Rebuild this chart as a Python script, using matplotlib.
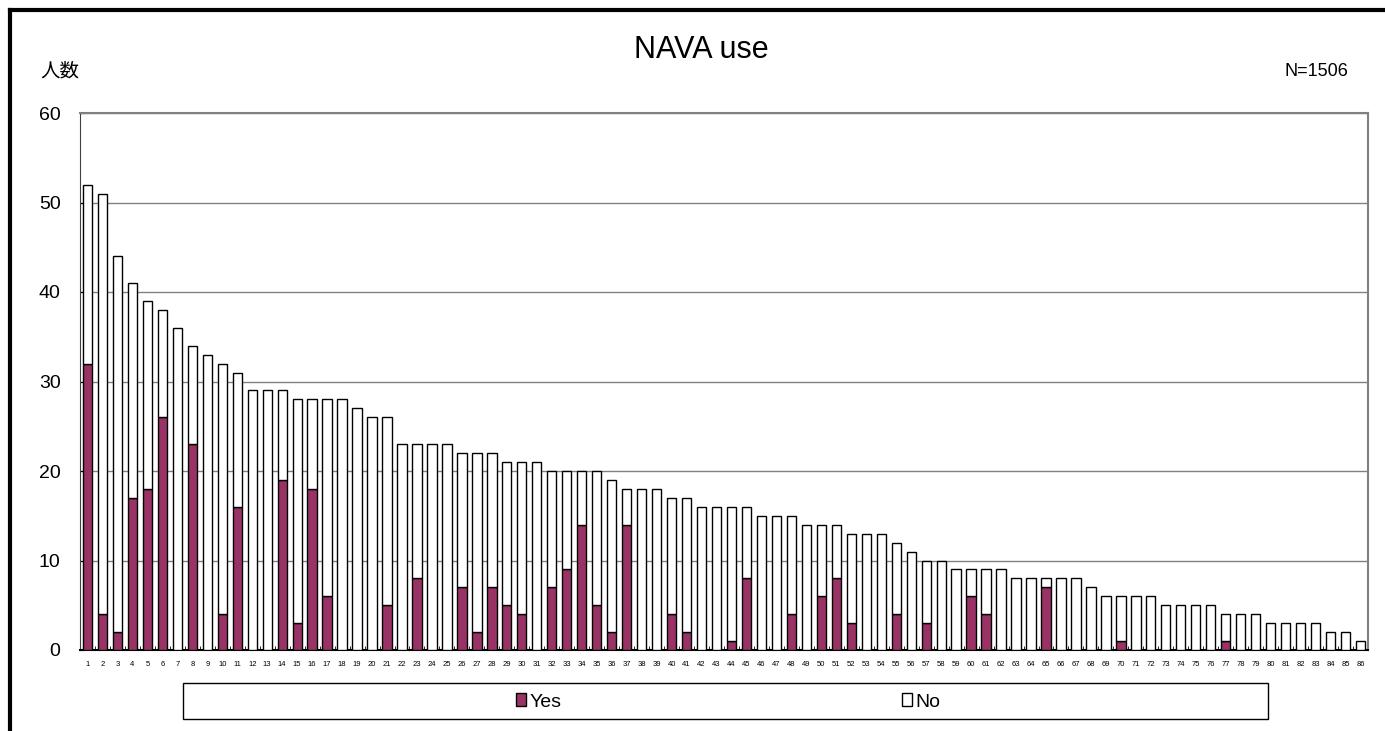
import matplotlib
matplotlib.use('Agg')
import matplotlib.pyplot as plt
from matplotlib.patches import Rectangle
from matplotlib.lines import Line2D
import numpy as np

plt.rcParams['font.family'] = ['Liberation Sans', 'Noto Sans CJK JP', 'DejaVu Sans']

# Data
categories = [str(i) for i in range(1, 87)]
totals = [52, 51, 44, 41, 39, 38, 36, 34, 33, 32, 31, 29, 29, 29, 28, 28, 28, 28, 27, 26,
          26, 23, 23, 23, 23, 22, 22, 22, 21, 21, 21, 20, 20, 20, 20, 19, 18, 18, 18, 17,
          17, 16, 16, 16, 16, 15, 15, 15, 14, 14, 14, 13, 13, 13, 12, 11, 10, 10, 9, 9,
          9, 9, 8, 8, 8, 8, 8, 7, 6, 6, 6, 6, 5, 5, 5, 5, 4, 4, 4, 3,
          3, 3, 3, 2, 2, 1]
yes = [32, 4, 2, 17, 18, 26, 0, 23, 0, 4, 16, 0, 0, 19, 3, 18, 6, 0, 0, 0,
       5, 0, 8, 0, 0, 7, 2, 7, 5, 4, 0, 7, 9, 14, 5, 2, 14, 0, 0, 4,
       2, 0, 0, 1, 8, 0, 0, 4, 0, 6, 8, 3, 0, 0, 4, 0, 3, 0, 0, 6,
       4, 0, 0, 0, 7, 0, 0, 0, 0, 1, 0, 0, 0, 0, 0, 0, 1, 0, 0, 0,
       0, 0, 0, 0, 0, 0]
no = [t - y for t, y in zip(totals, yes)]

maroon = '#993366'

fig = plt.figure(figsize=(13.85, 7.31), dpi=100)
ax = fig.add_axes([80 / 1385, 1 - 650 / 731, 1288 / 1385, 537 / 731])

x = np.arange(1, len(categories) + 1)
ax.bar(x, yes, width=0.62, color=maroon, edgecolor='black', linewidth=1, label='Yes', zorder=3)
ax.bar(x, no, bottom=yes, width=0.62, color='white', edgecolor='black', linewidth=1,
       label='No', zorder=3)

ax.set_xlim(0.5, len(categories) + 0.5)
ax.set_ylim(0, 60)
ax.set_yticks(range(0, 61, 10))
ax.set_xticks(x)
ax.set_xticklabels(categories, fontsize=5.5)
# small tick marks between the categories
ax.set_xticks(np.arange(1.5, len(categories), 1), minor=True)
ax.tick_params(axis='x', which='major', length=0, pad=8)
ax.tick_params(axis='x', which='minor', direction='in', length=3, color='black')
ax.tick_params(axis='y', direction='in', length=3, labelsize=14, pad=14)

ax.yaxis.grid(True, color='#808080', linewidth=1, zorder=0)
ax.set_axisbelow(True)

for side in ['top', 'right']:
    ax.spines[side].set_color('#808080')
    ax.spines[side].set_linewidth(1.5)
ax.spines['left'].set_color('#404040')
ax.spines['bottom'].set_color('black')
ax.spines['bottom'].set_linewidth(1.5)

fig.text(701 / 1385, 1 - 50 / 731, 'NAVA use', ha='center', va='center', fontsize=22)
fig.text(40 / 1385, 1 - 71 / 731, '人数', ha='left', va='center', fontsize=14,
         family=['Noto Sans CJK JP', 'DejaVu Sans'])
fig.text(1348 / 1385, 1 - 71 / 731, 'N=1506', ha='right', va='center', fontsize=13)

# legend box
fig.patches.append(Rectangle((183 / 1385, 1 - 719 / 731), 1085 / 1385, 36 / 731,
                             transform=fig.transFigure, facecolor='none',
                             edgecolor='black', linewidth=1))
fig.legend(loc='center', bbox_to_anchor=(728 / 1385, 1 - 702 / 731), ncol=2,
           frameon=False, fontsize=14, handlelength=0.55, handleheight=0.65,
           handletextpad=0.15, columnspacing=17.5)

# outer frame (left and top edges)
fig.add_artist(Line2D([10 / 1385, 10 / 1385], [0, 1 - 10 / 731], transform=fig.transFigure,
                      color='black', linewidth=3))
fig.add_artist(Line2D([10 / 1385, 1], [1 - 10 / 731, 1 - 10 / 731], transform=fig.transFigure,
                      color='black', linewidth=3))

fig.savefig('out.png', dpi=100)
